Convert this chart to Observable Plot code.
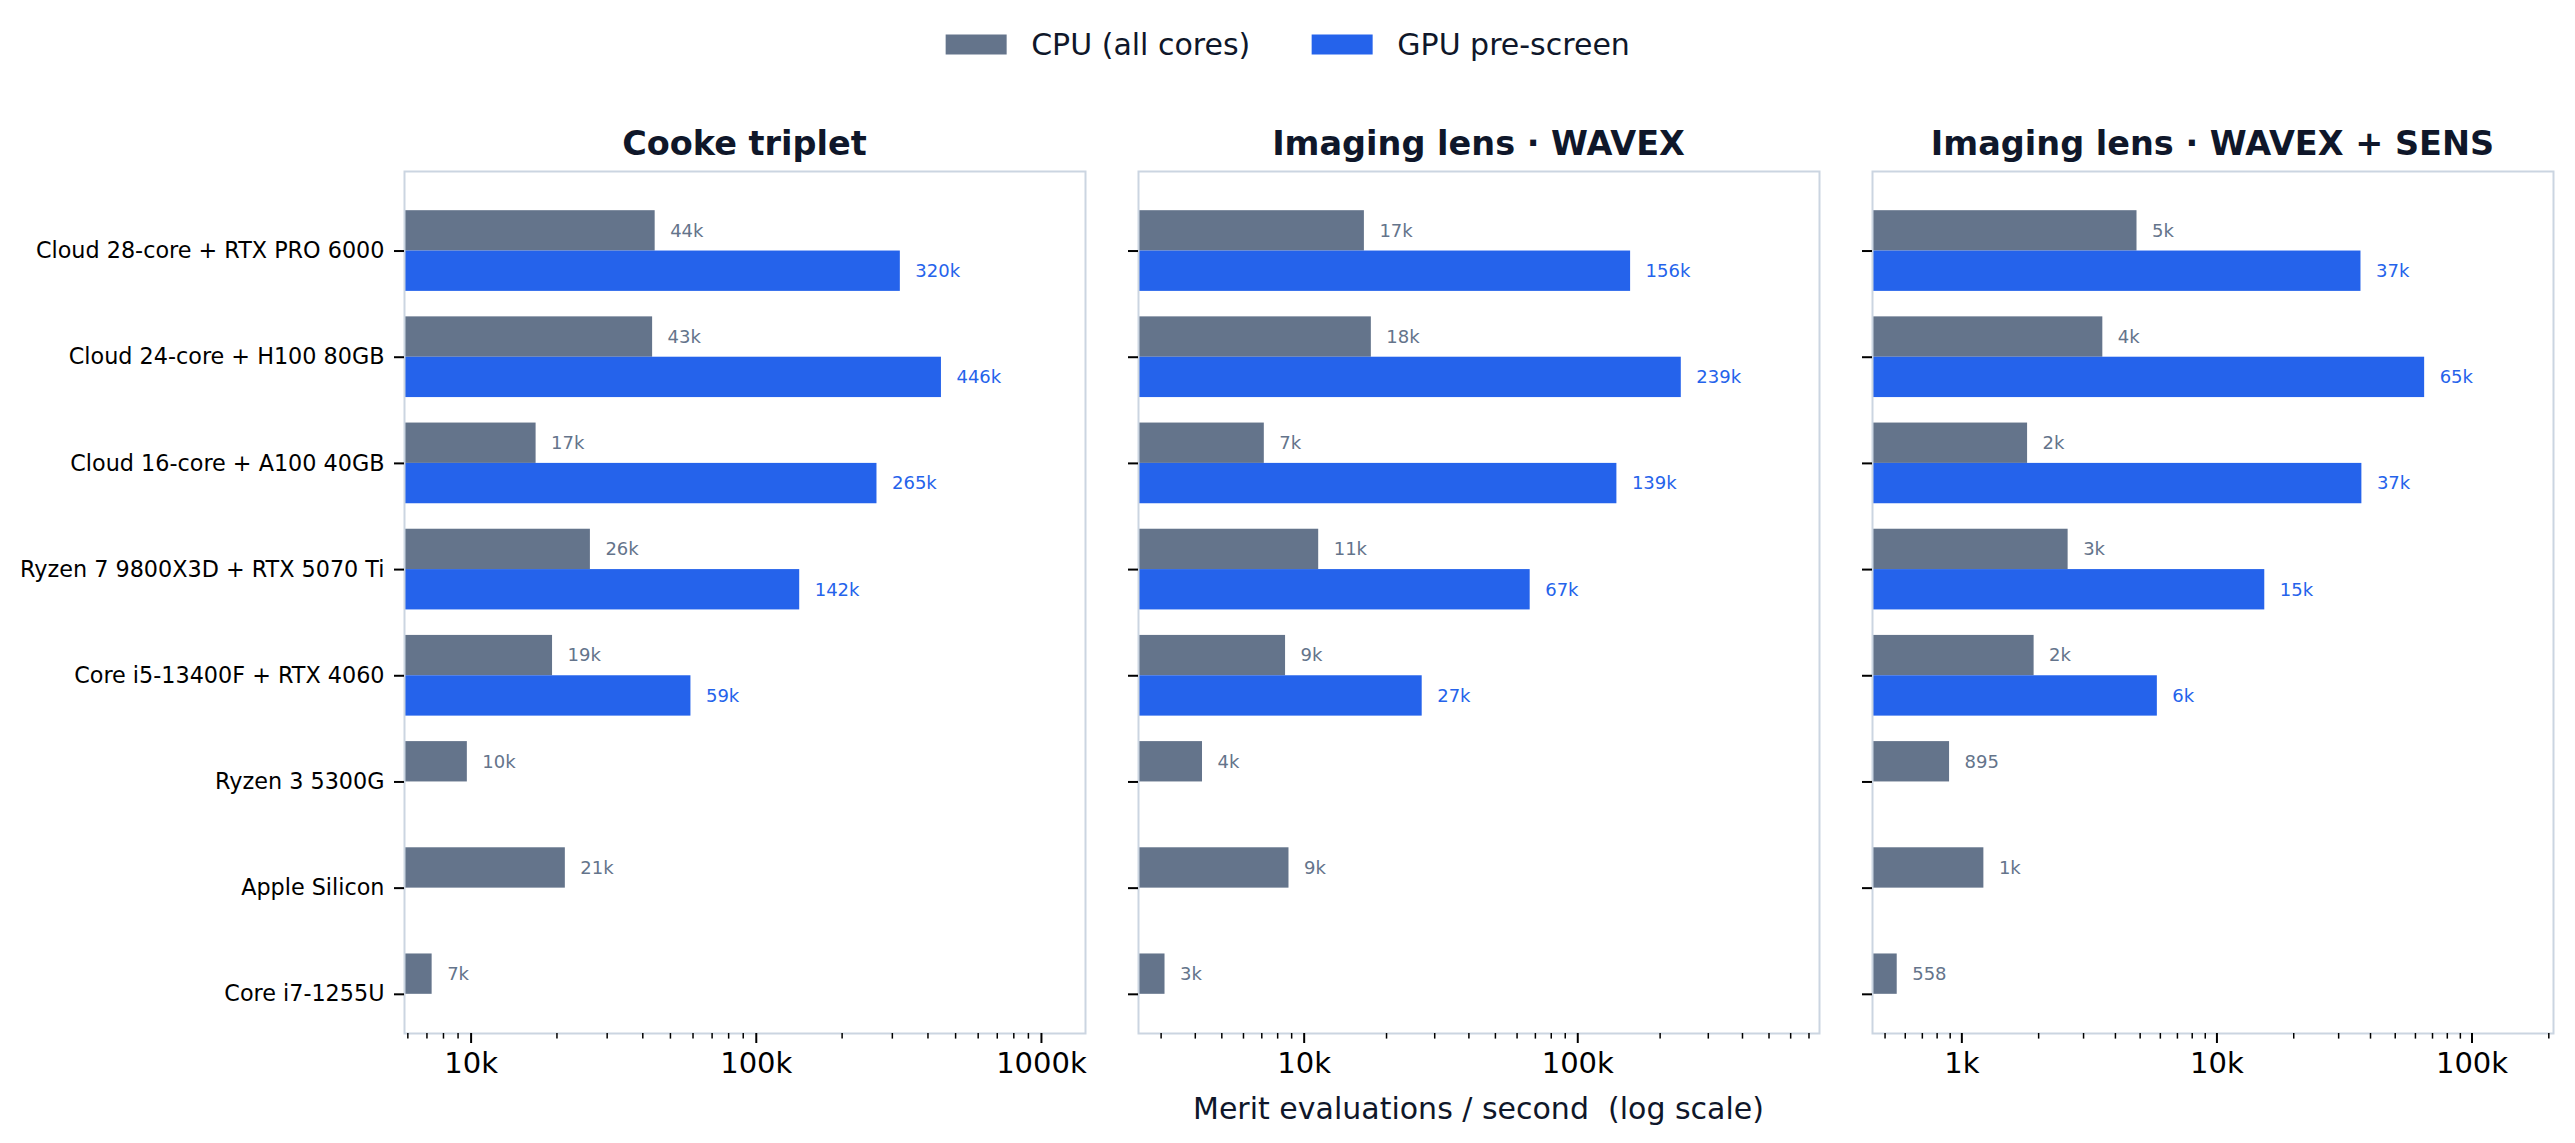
<!DOCTYPE html>
<html>
<head>
<meta charset="utf-8">
<script src="https://cdn.jsdelivr.net/npm/d3@7"></script>
<script src="https://cdn.jsdelivr.net/npm/@observablehq/plot@0.6"></script>
<style>
  body { margin: 0; background: #ffffff; font-family: "DejaVu Sans", sans-serif; }
  #wrap { position: relative; width: 2575px; height: 1143px; overflow: hidden; background: #fff; }
  .abs { position: absolute; }
  .title { font-weight: bold; font-size: 33.5px; color: #0f172a; white-space: nowrap; transform: translate(-50%, -50%); }
  .xlabel { font-size: 30px; color: #0f172a; white-space: pre; transform: translate(-50%, -50%); }
  #legend { left: 50%; top: 44px; transform: translate(-50%, -50%); display: flex; align-items: center; font-size: 30px; color: #0f172a; white-space: nowrap; }
  .item { display: flex; align-items: center; }
  .item + .item { margin-left: 61px; }
  .sw { width: 61px; height: 20px; margin-right: 25px; }
</style>
</head>
<body>
<div id="wrap"></div>
<script>
// ---------- data ----------
const devices = [
  "Cloud 28-core + RTX PRO 6000",
  "Cloud 24-core + H100 80GB",
  "Cloud 16-core + A100 40GB",
  "Ryzen 7 9800X3D + RTX 5070 Ti",
  "Core i5-13400F + RTX 4060",
  "Ryzen 3 5300G",
  "Apple Silicon",
  "Core i7-1255U"
];
const panelTitles = ["Cooke triplet", "Imaging lens · WAVEX", "Imaging lens · WAVEX + SENS"];
const seriesNames = ["CPU (all cores)", "GPU pre-screen"];
const seriesColors = ["#64748b", "#2563eb"];
const xAxisLabel = "Merit evaluations / second  (log scale)";

const cookeCpu = [44200, 43300, 16900, 26200, 19300, 9700, 21400, 7300];
const cookeGpu = [320000, 446000, 265000, 142000, 59000, null, null, null];
const wavexCpu = [16600, 17600, 7150, 11300, 8550, 4250, 8800, 3100];
const wavexGpu = [156000, 239000, 139000, 67000, 27000, null, null, null];
const sensCpu = [4860, 3570, 1810, 2610, 1920, 895, 1220, 558];
const sensGpu = [36700, 65200, 37000, 15400, 5840, null, null, null];

const panelCpu = [cookeCpu, wavexCpu, sensCpu];
const panelGpu = [cookeGpu, wavexGpu, sensGpu];

// ---------- layout ----------
const frameLefts = [404, 1138, 1872];
const frameW = 681;
const frameTop = 171;
const frameH = 862;
const mTop = 5, mBottom = 110, mRight = 15;
const barH = 0.38;

function fmt(v) { return v >= 1000 ? Math.round(v / 1000) + "k" : String(Math.round(v)); }

const wrap = document.getElementById("wrap");

// legend
const legend = document.createElement("div");
legend.id = "legend"; legend.className = "abs";
seriesNames.forEach((s, k) => {
  const it = document.createElement("div"); it.className = "item";
  const sw = document.createElement("div"); sw.className = "sw"; sw.style.background = seriesColors[k];
  const tx = document.createElement("span"); tx.textContent = s;
  it.appendChild(sw); it.appendChild(tx); legend.appendChild(it);
});
wrap.appendChild(legend);

panelTitles.forEach((title, p) => {
  const cpu = panelCpu[p], gpu = panelGpu[p];
  const rows = [];
  devices.forEach((d, i) => {
    if (cpu[i] != null) rows.push({device: d, series: seriesNames[0], value: cpu[i], y1: i - barH, y2: i});
    if (gpu[i] != null) rows.push({device: d, series: seriesNames[1], value: gpu[i], y1: i, y2: i + barH});
  });
  const lo = d3.min(rows, r => r.value) * 0.8;
  const hi = d3.max(rows, r => r.value) * 3.2;
  const majors = [1e2, 1e3, 1e4, 1e5, 1e6, 1e7].filter(v => v >= lo && v <= hi);
  const minors = [];
  for (let e = 1; e <= 6; e++) for (let m = 2; m <= 9; m++) {
    const v = m * Math.pow(10, e);
    if (v >= lo && v <= hi) minors.push(v);
  }
  const n = devices.length;
  const yMin = -barH, yMax = n - 1, pad = 0.05 * (yMax - yMin);

  const mLeft = p === 0 ? frameLefts[0] : 30;
  const width = mLeft + frameW + mRight;
  const height = mTop + frameH + mBottom;

  const chart = Plot.plot({
    width, height,
    marginLeft: mLeft, marginRight: mRight, marginTop: mTop, marginBottom: mBottom,
    style: {fontFamily: "DejaVu Sans", fontSize: "22px", color: "black", background: "transparent", overflow: "visible"},
    x: {type: "log", domain: [lo, hi], nice: false, axis: null, label: null},
    y: {domain: [yMin - pad, yMax + pad], reverse: true, axis: null, label: null},
    color: {domain: seriesNames, range: seriesColors},
    marks: [
      Plot.rect(rows, {x1: () => lo, x2: "value", y1: "y1", y2: "y2", fill: "series"}),
      Plot.text(rows, {x: "value", y: r => (r.y1 + r.y2) / 2, text: r => fmt(r.value), fill: "series",
                       textAnchor: "start", dx: 15, fontSize: 18}),
      Plot.frame({stroke: "#cbd5e1", strokeWidth: 2}),
      Plot.axisX(minors, {tickSize: 5.6, tickFormat: () => "", strokeWidth: 1.5, label: null}),
      Plot.axisX(majors, {tickSize: 10, tickPadding: 9, tickFormat: fmt, fontSize: 29, strokeWidth: 2, label: null}),
      Plot.axisY(d3.range(n), {tickSize: 10, tickPadding: 10,
                               tickFormat: p === 0 ? (i => devices[i]) : (() => ""),
                               fontSize: 22.3, strokeWidth: 2, label: null})
    ]
  });
  chart.classList.add("abs");
  chart.style.left = (frameLefts[p] - mLeft) + "px";
  chart.style.top = (frameTop - mTop) + "px";
  wrap.appendChild(chart);

  const t = document.createElement("div");
  t.className = "abs title";
  t.textContent = title;
  t.style.left = (frameLefts[p] + frameW / 2) + "px";
  t.style.top = "143px";
  wrap.appendChild(t);
});

const xl = document.createElement("div");
xl.className = "abs xlabel";
xl.textContent = xAxisLabel;
xl.style.left = (frameLefts[1] + frameW / 2) + "px";
xl.style.top = "1108px";
wrap.appendChild(xl);
</script>
</body>
</html>
